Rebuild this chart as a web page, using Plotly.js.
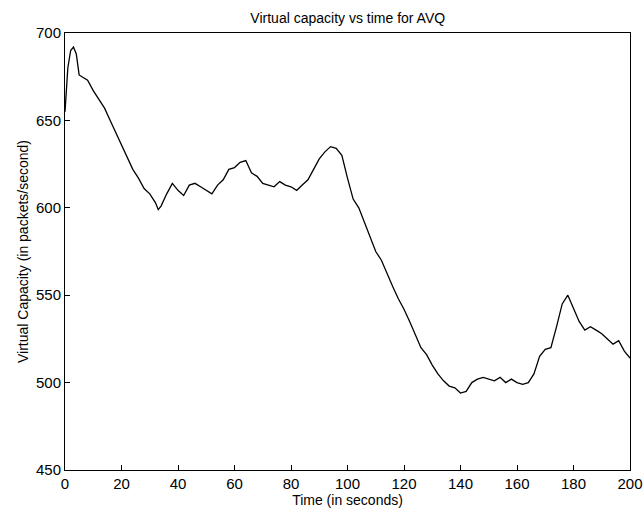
<!DOCTYPE html>
<html><head><script src="https://cdn.plot.ly/plotly-3.0.0.min.js"></script></head>
<body style="margin:0">
<div id="c" style="width:644px;height:519px"></div>
<script>
const time = [0,1,2,3,4,5,6,8,10,12,14,16,18,20,22,24,26,28,30,32,33,34,36,38,40,42,44,46,48,50,52,54,56,58,60,62,64,66,68,70,72,74,76,78,80,82,84,86,88,90,92,94,96,98,100,102,104,106,108,110,112,114,116,118,120,122,124,126,128,130,132,134,136,138,140,142,144,146,148,150,152,154,156,158,160,162,164,166,168,170,172,174,176,178,180,182,184,186,188,190,192,194,196,198,200];
const capacity = [655,680,690,692,688,676,675,673,667,662,657,650,643,636,630,622,617,611,608,603,599,601,608,614,610,607,613,614,612,610,608,613,616,622,623,626,627,620,618,614,613,612,615,613,612,610,613,616,622,628,632,635,634,630,617,605,600,592,583,575,570,562,555,548,542,535,527,520,516,510,505,501,498,497,494,495,500,502,503,502,501,503,500,502,500,499,500,505,515,519,520,532,545,550,543,535,530,532,530,528,525,522,524,518,514];
const ax = {showgrid:false, zeroline:false, mirror:true, showline:true, linecolor:'#000', linewidth:1, ticks:'inside', ticklen:5, tickcolor:'#000', tickfont:{size:15, color:'#000'}};
Plotly.newPlot('c', [{x:time, y:capacity, type:'scatter', mode:'lines', line:{color:'#000', width:1.3}}], {
  width:644, height:519, margin:{l:65, r:14, t:33, b:49},
  paper_bgcolor:'#fff', plot_bgcolor:'#fff', showlegend:false,
  font:{family:'Liberation Sans, Arial', color:'#000'},
  title:{text:'Virtual capacity vs time for AVQ', font:{size:14}, x:0.54, y:0.975},
  xaxis:Object.assign({}, ax, {range:[0,200], dtick:20, title:{text:'Time (in seconds)', font:{size:14}, standoff:2}}),
  yaxis:Object.assign({}, ax, {range:[450,700], dtick:50, title:{text:'Virtual Capacity (in packets/second)', font:{size:14}, standoff:4}})
}, {displayModeBar:false});
</script></body></html>
